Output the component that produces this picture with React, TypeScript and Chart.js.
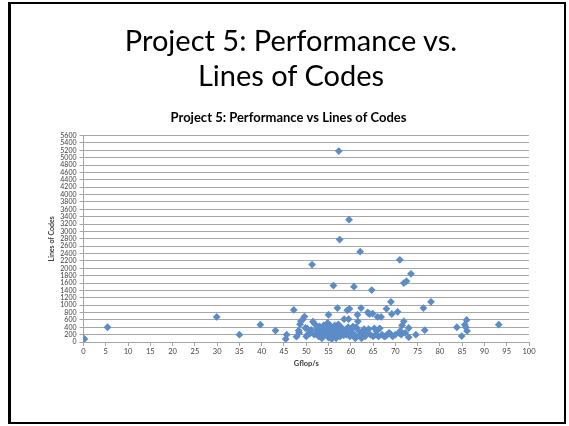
import React, { useEffect, useRef } from "react";
import { Chart, registerables } from "chart.js";

Chart.register(...registerables);

const slideTitleLines = ["Project 5: Performance vs.", "Lines of Codes"];
const chartTitle = "Project 5: Performance vs Lines of Codes";
const xAxisTitle = "Gflop/s";
const yAxisTitle = "Lines of Codes";

const xTicks = { min: 0, max: 100, step: 5 };
const yTicks = { min: 0, max: 5600, step: 200 };

const gflops = [
  0, 0.2, 5.4, 29.9, 35, 39.7, 43.1, 45.4, 45.6, 47.2, 47.8, 48.3, 48.4, 48.6, 48.8, 49.2, 49.6, 49.8, 50.0, 50.2,
  50.3, 51.3, 51.5, 51.8, 52, 52.3, 52.5, 52.8, 53, 53.2, 53.5, 53.7, 54, 54.2, 54.5, 54.8, 55, 55, 55.2, 55.4,
  55.5, 55.7, 55.9, 56, 56.1, 56.2, 56.4, 56.5, 56.7, 56.8, 57, 57, 57.2, 57.3, 57.5, 57.5, 57.6, 57.8, 58, 58.2,
  58.5, 58.8, 59, 59.2, 59.4, 59.5, 59.6, 59.7, 59.8, 60, 60.3, 60.7, 60.8, 61, 61.2, 61.5, 61.6, 61.8, 62, 62.1,
  62.3, 62.4, 62.6, 63, 63.2, 63.8, 64, 64.2, 64.4, 64.7, 64.9, 65, 65.3, 65.6, 66, 66.2, 66.5, 66.8, 67, 67.5,
  68, 68.2, 68.6, 69, 69.2, 69.4, 70, 70.5, 70.8, 71, 71.1, 71.3, 71.5, 71.9, 71.9, 72.5, 73, 73, 73.5, 74.6,
  76.3, 76.6, 78, 83.8, 84.9, 85.6, 85.8, 86, 86.1, 93.2,
  52.6, 53.4, 54.3, 54.9, 55.6, 56.3, 57.1, 57.9, 58.4, 53.9, 55.3, 56.6, 50.8, 51.1, 63.5, 65.8, 67.8, 68.9, 72.2, 60.5
];

const linesOfCode = [
  100, 80, 400, 680, 200, 470, 310, 80, 200, 870, 145, 310, 250, 480, 560, 610, 690, 380, 150, 370,
  200, 2100, 550, 200, 480, 260, 350, 150, 420, 240, 100, 300, 180, 380, 250, 520, 740, 120, 300, 420,
  200, 80, 350, 250, 1530, 150, 450, 300, 100, 380, 920, 200, 480, 5180, 2780, 300, 150, 400, 250, 350,
  620, 300, 200, 860, 400, 620, 3320, 900, 150, 250, 350, 1500, 200, 100, 400, 740, 560, 300, 180, 2450,
  920, 100, 250, 350, 150, 800, 350, 760, 200, 1410, 770, 150, 370, 200, 680, 150, 370, 680, 200, 150,
  900, 200, 250, 1090, 760, 150, 200, 820, 250, 2230, 300, 200, 450, 560, 1600, 1650, 380, 130, 1850, 200,
  920, 320, 1090, 400, 160, 470, 400, 600, 300, 470,
  300, 200, 330, 180, 420, 220, 330, 280, 180, 450, 270, 230, 230, 330, 220, 300, 160, 220, 250, 420
];

const pointColor = "#5B8CC8";
const gridColor = "#a6a6a6";
const textColor = "#404040";

export default function App() {
  const canvasRef = useRef<HTMLCanvasElement | null>(null);

  useEffect(() => {
    document.body.style.margin = "0";
    const canvas = canvasRef.current;
    if (!canvas) return;
    const data = gflops.map((x, i) => ({ x, y: linesOfCode[i] }));
    const chart = new Chart(canvas, {
      type: "scatter",
      data: {
        datasets: [
          {
            data,
            pointStyle: "rectRot",
            pointRadius: 3.9,
            pointBackgroundColor: pointColor,
            pointBorderColor: pointColor,
            pointBorderWidth: 0,
          },
        ],
      },
      options: {
        animation: false,
        responsive: false,
        layout: { padding: { left: 48, right: 40, top: 110, bottom: 58 } },
        plugins: {
          legend: { display: false },
          tooltip: { enabled: false },
          title: {
            display: true,
            text: chartTitle,
            color: "#000",
            font: { family: "Lato", size: 13, weight: "bold" },
            padding: { top: 0, bottom: 10 },
          },
        },
        scales: {
          x: {
            type: "linear",
            min: xTicks.min,
            max: xTicks.max,
            ticks: {
              stepSize: xTicks.step,
              color: textColor,
              font: { family: "Lato", size: 7.5 },
              padding: 1,
              maxRotation: 0,
              callback: (v: any) => String(v),
            },
            grid: { drawOnChartArea: false, drawTicks: true, tickLength: 4, color: gridColor },
            border: { color: gridColor },
            title: {
              display: true,
              text: xAxisTitle,
              color: textColor,
              font: { family: "Lato", size: 7.5, weight: "bold" },
              padding: { top: 0, bottom: 0 },
            },
            afterFit: (s: any) => {
              s.height = 26;
            },
          },
          y: {
            type: "linear",
            min: yTicks.min,
            max: yTicks.max,
            ticks: {
              stepSize: yTicks.step,
              color: textColor,
              font: { family: "Lato", size: 7 },
              padding: 3,
              autoSkip: false,
              callback: (v: any) => String(v),
            },
            grid: { color: gridColor, tickLength: 4 },
            border: { color: gridColor },
            title: {
              display: true,
              text: yAxisTitle,
              color: textColor,
              font: { family: "Lato", size: 7, weight: "bold" },
              padding: { top: 0, bottom: 0 },
            },
            afterFit: (s: any) => {
              s.width = 35.5;
            },
          },
        },
      },
    });
    return () => chart.destroy();
  }, []);

  return (
    <div style={{ position: "absolute", left: 0, top: 0, width: 569, height: 426, background: "#fff" }}>
      <canvas ref={canvasRef} width={569} height={426} style={{ position: "absolute", left: 0, top: 0 }} />
      <div
        style={{
          position: "absolute",
          left: 8,
          top: 2,
          width: 558,
          height: 422,
          boxSizing: "border-box",
          borderTop: "2px solid #000",
          borderRight: "2px solid #000",
          borderBottom: "2px solid #000",
          borderLeft: "3px solid #000",
          pointerEvents: "none",
        }}
      />
      <div
        style={{
          position: "absolute",
          left: 0,
          top: 22,
          width: 582,
          textAlign: "center",
          fontFamily: "Lato",
          fontSize: 29,
          lineHeight: "35px",
          color: "#000",
          pointerEvents: "none",
        }}
      >
        {slideTitleLines.map((l, i) => (
          <div key={i}>{l}</div>
        ))}
      </div>
    </div>
  );
}
